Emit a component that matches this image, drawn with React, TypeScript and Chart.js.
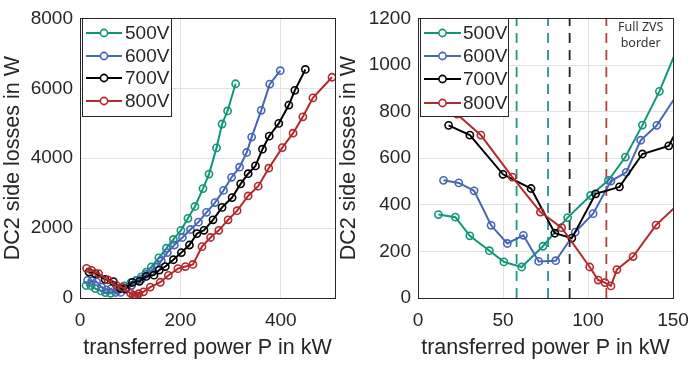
import React, { useEffect, useRef } from "react";
import { Chart, registerables } from "chart.js";
Chart.register(...registerables);

// ---------- data ----------
const seriesNames = ["500V", "600V", "700V", "800V"];
const seriesColors = ["#12967a", "#4866b6", "#000000", "#b3282c"];

const p500 = [12, 22, 30.5, 42, 50.5, 61, 73.5, 88, 101.5, 112, 122, 132, 142, 157, 172, 186, 201, 215, 229, 245, 257, 272, 283, 294, 310];
const loss500 = [358, 347, 267, 203, 155, 133, 222, 345, 440, 505, 605, 742, 887, 1150, 1423, 1675, 1937, 2280, 2620, 3130, 3546, 4295, 4978, 5352, 6130];

const p600 = [15, 24, 33, 43, 52.5, 62, 71, 81, 92.5, 103, 113.5, 122.5, 131, 140.5, 153, 162, 174, 188, 204, 220, 236, 252, 269, 286, 302, 318, 332, 342, 361, 378, 399];
const loss600 = [505, 494, 460, 312, 234, 269, 157, 160, 283, 362, 502, 539, 677, 741, 880, 1060, 1300, 1516, 1731, 1960, 2170, 2451, 2731, 3079, 3453, 3742, 4163, 4604, 5370, 6119, 6503];

const p700 = [18, 30.5, 50, 66.5, 80.5, 90.5, 104.5, 118.5, 132, 147.5, 158, 170, 186, 202, 218, 233, 247, 265, 283, 303, 320, 335, 349.5, 363.5, 377, 396, 416, 428, 449];
const loss700 = [741, 699, 531, 470, 278, 257, 447, 477, 618, 653, 800, 900, 1095, 1300, 1516, 1843, 1937, 2237, 2592, 2873, 3266, 3556, 3780, 4257, 4631, 4996, 5521, 5942, 6540];

const p800 = [13, 23, 37, 55.5, 72, 84.5, 101, 106, 110, 113.5, 117, 126.5, 140, 160, 176, 195, 210, 225, 243, 260, 276.5, 295, 313, 335, 355, 376, 403, 424.5, 444, 464, 502];
const loss800 = [850, 789, 699, 519, 369, 302, 133, 77, 66, 52, 122, 178, 313, 450, 646, 840, 900, 960, 1469, 1731, 1937, 2237, 2498, 2920, 3200, 3714, 4303, 4716, 5184, 5726, 6316];

const seriesP = [p500, p600, p700, p800];
const seriesLoss = [loss500, loss600, loss700, loss800];

// Full ZVS border positions (kW)
const zvsBorderP = [58, 76.5, 89.2, 110.8];
const zvsColors = ["#1b9a78", "#2a8d9c", "#222222", "#a5463e"];
const zvsLabelLines = ["Full ZVS", "border"];
const zvsLabelP = 131;
const zvsLabelLoss = [1160, 1092];

const leftXTicks = [0, 200, 400];
const leftYTicks = [0, 2000, 4000, 6000, 8000];
const rightXTicks = [0, 50, 100, 150];
const rightYTicks = [0, 200, 400, 600, 800, 1000, 1200];

const xTitle = "transferred power P in kW";
const yTitle = "DC2 side losses in W";

// ---------- styling ----------
const FONT = "'Liberation Sans', Arial, sans-serif";
const TEXT = "#262626";

const framePlugin = {
  id: "frameBox",
  afterDatasetsDraw(chart: any) {
    const { ctx, chartArea: a } = chart;
    ctx.save();
    ctx.strokeStyle = "#262626";
    ctx.lineWidth = 1;
    ctx.strokeRect(Math.round(a.left) + 0.5, Math.round(a.top) + 0.5, Math.round(a.right - a.left), Math.round(a.bottom - a.top));
    ctx.restore();
  },
};

const annotationPlugin = {
  id: "zvsText",
  afterDatasetsDraw(chart: any, _args: any, o: any) {
    if (!o || !o.enabled) return;
    const { ctx } = chart;
    const xs = chart.scales.x, ys = chart.scales.y;
    ctx.save();
    ctx.fillStyle = "#333";
    ctx.font = "12.5px 'Noto Sans', 'Open Sans', sans-serif";
    ctx.textAlign = "center";
    ctx.textBaseline = "middle";
    zvsLabelLines.forEach((t, i) => {
      ctx.fillText(t, xs.getPixelForValue(zvsLabelP), ys.getPixelForValue(zvsLabelLoss[i]));
    });
    ctx.restore();
  },
};

const legendPlugin = {
  id: "insideLegend",
  afterDraw(chart: any, _args: any, o: any) {
    const { ctx, chartArea: a } = chart;
    const x0 = Math.round(a.left + o.dx);
    const y0 = Math.round(a.top + o.dy);
    ctx.save();
    ctx.fillStyle = "#fff";
    ctx.fillRect(x0, y0, o.w, o.h);
    ctx.strokeStyle = "#262626";
    ctx.lineWidth = 1;
    ctx.strokeRect(x0 + 0.5, y0 + 0.5, o.w, o.h);
    seriesNames.forEach((name, i) => {
      const y = y0 + o.rows[i];
      const c = seriesColors[i];
      ctx.strokeStyle = c;
      ctx.lineWidth = 2;
      ctx.beginPath();
      ctx.moveTo(x0 + o.l0, y);
      ctx.lineTo(x0 + o.l1, y);
      ctx.stroke();
      ctx.beginPath();
      ctx.fillStyle = "#fff";
      ctx.lineWidth = 1.6;
      ctx.arc(x0 + (o.l0 + o.l1) / 2, y, 3.6, 0, Math.PI * 2);
      ctx.fill();
      ctx.stroke();
      ctx.fillStyle = TEXT;
      ctx.font = `19px ${FONT}`;
      ctx.textAlign = "left";
      ctx.textBaseline = "middle";
      ctx.fillText(name, x0 + o.tx, y + 1);
    });
    ctx.restore();
  },
};

function buildConfig(p: any) {
  const datasets: any[] = [];
  seriesNames.forEach((name, i) => {
    datasets.push({
      label: name,
      data: seriesP[i].map((x, j) => ({ x, y: seriesLoss[i][j] })),
      borderColor: seriesColors[i],
      backgroundColor: "rgba(0,0,0,0)",
      pointBackgroundColor: "rgba(0,0,0,0)",
      pointBorderColor: seriesColors[i],
      borderWidth: 2,
      pointRadius: 3.6,
      pointBorderWidth: 1.6,
      tension: 0,
      order: 3 - i,
      clip: p.clip,
    });
  });
  if (p.zvs) {
    zvsBorderP.forEach((v, i) => {
      datasets.push({
        label: "zvs" + i,
        data: [
          { x: v, y: p.yMin },
          { x: v, y: p.yMax },
        ],
        borderColor: zvsColors[i],
        borderDash: [10, 7],
        borderWidth: 1.8,
        pointRadius: 0,
        order: 10,
      });
    });
  }
  const tickFont = { family: FONT, size: 19 };
  const titleFont = { family: FONT, size: 21.5 };
  const plain = (v: any) => String(v);
  return {
    type: "line",
    data: { datasets },
    plugins: [framePlugin, annotationPlugin, legendPlugin],
    options: {
      responsive: false,
      animation: false,
      layout: { padding: { left: 0, right: p.padRight, top: 12, bottom: 0 } },
      plugins: {
        legend: { display: false },
        tooltip: { enabled: false },
        zvsText: { enabled: p.zvs },
        insideLegend: p.legend,
      },
      scales: {
        x: {
          type: "linear",
          min: p.xMin,
          max: p.xMax,
          afterBuildTicks: (s: any) => {
            s.ticks = p.xTicks.map((v: number) => ({ value: v }));
          },
          afterFit: (s: any) => {
            s.height = 67;
          },
          grid: { color: "#e2e2e2", drawTicks: false, lineWidth: 1 },
          border: { display: false },
          ticks: { font: tickFont, color: TEXT, padding: 11, maxRotation: 0, autoSkip: false, callback: plain },
          title: { display: true, text: xTitle, font: titleFont, color: TEXT, padding: { top: 0, bottom: 4 } },
        },
        y: {
          type: "linear",
          min: p.yMin,
          max: p.yMax,
          afterBuildTicks: (s: any) => {
            s.ticks = p.yTicks.map((v: number) => ({ value: v }));
          },
          afterFit: (s: any) => {
            s.width = p.yWidth;
          },
          grid: { color: "#e2e2e2", drawTicks: false, lineWidth: 1 },
          border: { display: false },
          ticks: { font: tickFont, color: TEXT, padding: 7, autoSkip: false, callback: plain },
          title: { display: true, text: yTitle, font: titleFont, color: TEXT, padding: { top: p.yTitlePad, bottom: 0 } },
        },
      },
    },
  };
}

function ChartCanvas(props: { cfg: any; width: number; left: number }) {
  const ref = useRef<HTMLCanvasElement | null>(null);
  useEffect(() => {
    if (!ref.current) return;
    const chart = new Chart(ref.current, props.cfg);
    return () => chart.destroy();
  }, []);
  return (
    <canvas
      ref={ref}
      width={props.width}
      height={365}
      style={{ position: "absolute", left: props.left, top: 0, width: props.width, height: 365 }}
    />
  );
}

export default function App() {
  const leftCfg = buildConfig({
    xMin: 0, xMax: 508, yMin: 0, yMax: 8000,
    xTicks: leftXTicks, yTicks: leftYTicks,
    yWidth: 80, padRight: 15, yTitlePad: 0, zvs: false, clip: undefined,
    legend: { dx: 2, dy: 0, w: 89, h: 98, rows: [15, 38, 60, 83], l0: 4, l1: 40, tx: 43 },
  });
  const rightCfg = buildConfig({
    xMin: 0, xMax: 150, yMin: 0, yMax: 1200,
    xTicks: rightXTicks, yTicks: rightYTicks,
    yWidth: 88, padRight: 27, yTitlePad: 6, zvs: true, clip: 0,
    legend: { dx: 2, dy: 0, w: 88, h: 98, rows: [15, 38, 61, 85], l0: 4, l1: 41, tx: 43 },
  });
  return (
    <div style={{ position: "absolute", left: 0, top: 0, width: 700, height: 365, background: "#fff", overflow: "hidden" }}>
      <ChartCanvas cfg={leftCfg} width={350} left={0} />
      <ChartCanvas cfg={rightCfg} width={370} left={330} />
    </div>
  );
}
